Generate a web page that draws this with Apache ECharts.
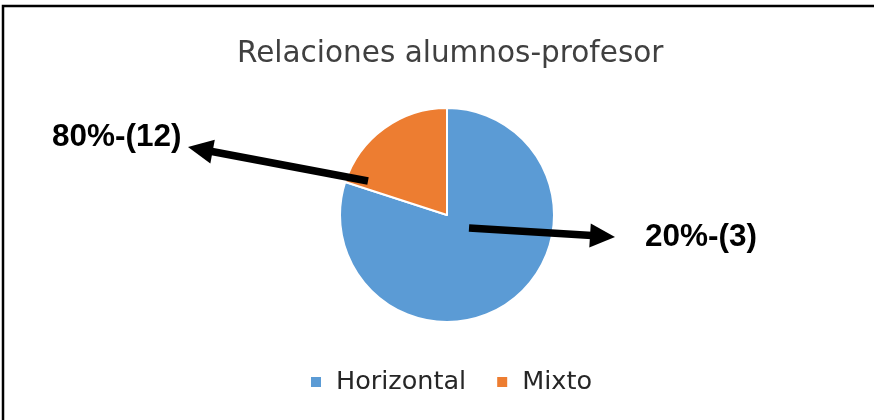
<!DOCTYPE html>
<html>
<head>
<meta charset="utf-8">
<script src="https://cdn.jsdelivr.net/npm/echarts@6/dist/echarts.min.js"></script>
<style>
  html, body { margin: 0; padding: 0; background: #fff; }
  #pieChart { width: 874px; height: 420px; }
</style>
</head>
<body>
<div id="pieChart"></div>
<script>
var categories = ["Horizontal", "Mixto"];
var values = [12, 3];
var colors = ["#5B9BD5", "#ED7D31"];
// hand-placed call-out texts as they appear on the picture
var calloutTexts = ["80%-(12)", "20%-(3)"];

var pieData = [];
for (var i = 0; i < categories.length; i++) {
  pieData.push({ name: categories[i], value: values[i], itemStyle: { color: colors[i] } });
}

function arrow(x1, y1, x2, y2) {
  // shaft plus a triangular head pointing at (x2, y2)
  var dx = x2 - x1, dy = y2 - y1;
  var len = Math.sqrt(dx * dx + dy * dy);
  var ux = dx / len, uy = dy / len;
  var headLen = 25, headHalf = 12;
  var bx = x2 - ux * headLen, by = y2 - uy * headLen;
  return [
    {
      type: "line",
      z: 100,
      shape: { x1: x1, y1: y1, x2: bx + ux * 2, y2: by + uy * 2 },
      style: { stroke: "#000", lineWidth: 7.5 }
    },
    {
      type: "polygon",
      z: 100,
      shape: { points: [[x2, y2], [bx - uy * headHalf, by + ux * headHalf], [bx + uy * headHalf, by - ux * headHalf]] },
      style: { fill: "#000" }
    }
  ];
}

var chart = echarts.init(document.getElementById("pieChart"));
chart.setOption({
  animation: false,
  title: {
    text: "Relaciones alumnos-profesor",
    left: 232,
    top: 34,
    textStyle: { fontFamily: "DejaVu Sans", fontSize: 29.5, fontWeight: "normal", color: "#404040" }
  },
  legend: {
    data: categories,
    left: 304,
    top: 364,
    icon: "rect",
    itemWidth: 12,
    itemHeight: 12,
    itemGap: 29,
    textStyle: { fontFamily: "DejaVu Sans", fontSize: 25.5, color: "#262626", padding: [0, 0, 0, 9] }
  },
  graphic: [
    {
      type: "rect",
      z: 100,
      shape: { x: 3, y: 6, width: 900, height: 430 },
      style: { fill: null, stroke: "#000", lineWidth: 2.5 }
    },
    {
      type: "text",
      z: 100,
      left: 52,
      top: 121,
      style: { text: calloutTexts[0], font: "bold 31.5px 'Liberation Sans'", fill: "#000" }
    },
    {
      type: "text",
      z: 100,
      left: 645,
      top: 221,
      style: { text: calloutTexts[1], font: "bold 31.5px 'Liberation Sans'", fill: "#000" }
    }
  ].concat(arrow(368, 181, 188, 147), arrow(469, 228, 615, 237)),
  series: [
    {
      type: "pie",
      z: 2,
      center: [447, 215],
      radius: 107,
      startAngle: 90,
      clockwise: true,
      label: { show: false },
      labelLine: { show: false },
      itemStyle: { borderColor: "#fff", borderWidth: 2 },
      emphasis: { disabled: true },
      data: pieData
    }
  ]
});
</script>
</body>
</html>
